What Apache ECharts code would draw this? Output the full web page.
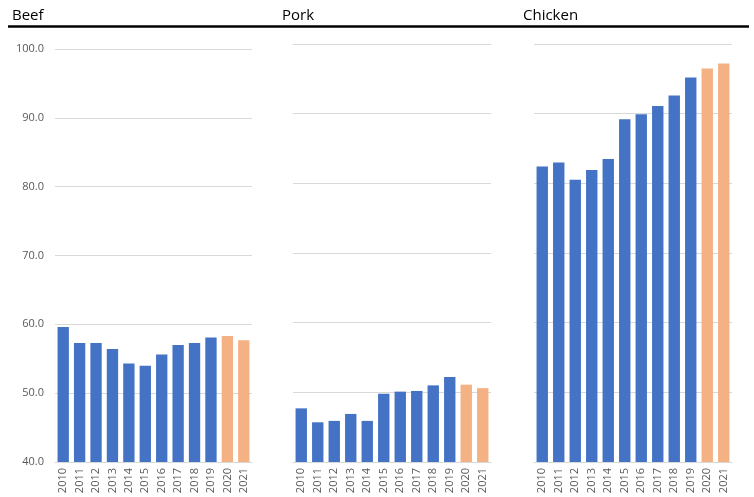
<!DOCTYPE html>
<html>
<head>
<meta charset="utf-8">
<script src="https://cdn.jsdelivr.net/npm/echarts@6/dist/echarts.min.js"></script>
<style>
  html, body { margin: 0; padding: 0; background: #fff; }
  #chart { width: 754px; height: 497px; }
</style>
</head>
<body>
<div id="chart"></div>
<script>
// Per-capita consumption by meat type, 2010–2021 (2020–2021 are projections)
const years = ['2010','2011','2012','2013','2014','2015','2016','2017','2018','2019','2020','2021'];
const projectedYears = ['2020','2021'];
const beef    = [59.6, 57.3, 57.3, 56.4, 54.3, 54.0, 55.6, 57.0, 57.3, 58.1, 58.3, 57.7];
const pork    = [47.7, 45.7, 45.9, 46.9, 45.9, 49.8, 50.1, 50.2, 51.0, 52.2, 51.1, 50.6];
const chicken = [82.4, 83.0, 80.5, 81.9, 83.5, 89.2, 89.9, 91.1, 92.6, 95.2, 96.5, 97.2];
const panelNames = ['Beef', 'Pork', 'Chicken'];
const yTicks = { min: 40, max: 100, step: 10 };

const BLUE = '#4472C4';
const ORANGE = '#F4B183';
const FONT = '"Open Sans", "Noto Sans", sans-serif';

const panels = [
  { name: panelNames[0], values: beef,    grid: { left: 55,  top: 49, width: 197, height: 413 }, titleX: 12,  showY: true },
  { name: panelNames[1], values: pork,    grid: { left: 293, top: 44, width: 198, height: 418 }, titleX: 282, showY: false },
  { name: panelNames[2], values: chicken, grid: { left: 534, top: 44, width: 198, height: 418 }, titleX: 523, showY: false }
];

const option = {
  animation: false,
  backgroundColor: '#fff',
  textStyle: { fontFamily: FONT },
  grid: panels.map(p => p.grid),
  xAxis: panels.map((p, i) => ({
    type: 'category',
    gridIndex: i,
    data: years,
    axisLine: { show: true, lineStyle: { color: '#d9d9d9', width: 1 } },
    axisTick: { show: false },
    axisLabel: { rotate: 90, fontSize: 11, color: '#595959', margin: 6, fontFamily: FONT, interval: 0 }
  })),
  yAxis: panels.map((p, i) => ({
    type: 'value',
    gridIndex: i,
    min: yTicks.min,
    max: yTicks.max,
    interval: yTicks.step,
    axisLine: { show: false },
    axisTick: { show: false },
    splitLine: { show: true, lineStyle: { color: '#d9d9d9', width: 1 } },
    axisLabel: {
      show: p.showY,
      fontSize: 11,
      color: '#595959',
      margin: 11,
      fontFamily: FONT,
      formatter: v => v.toFixed(1)
    }
  })),
  series: panels.map((p, i) => ({
    type: 'bar',
    name: p.name,
    xAxisIndex: i,
    yAxisIndex: i,
    barCategoryGap: '31%',
    data: p.values.map((v, k) => ({
      value: v,
      itemStyle: { color: projectedYears.includes(years[k]) ? ORANGE : BLUE }
    }))
  })),
  graphic: [
    ...panels.map(p => ({
      type: 'text',
      left: p.titleX,
      top: 8,
      style: { text: p.name, fill: '#000', fontSize: 15, fontFamily: FONT }
    })),
    {
      type: 'line',
      shape: { x1: 8, y1: 26.5, x2: 749, y2: 26.5 },
      style: { stroke: '#000', lineWidth: 2.5 }
    }
  ]
};

echarts.init(document.getElementById('chart'), null, { renderer: 'canvas' }).setOption(option);
</script>
</body>
</html>
